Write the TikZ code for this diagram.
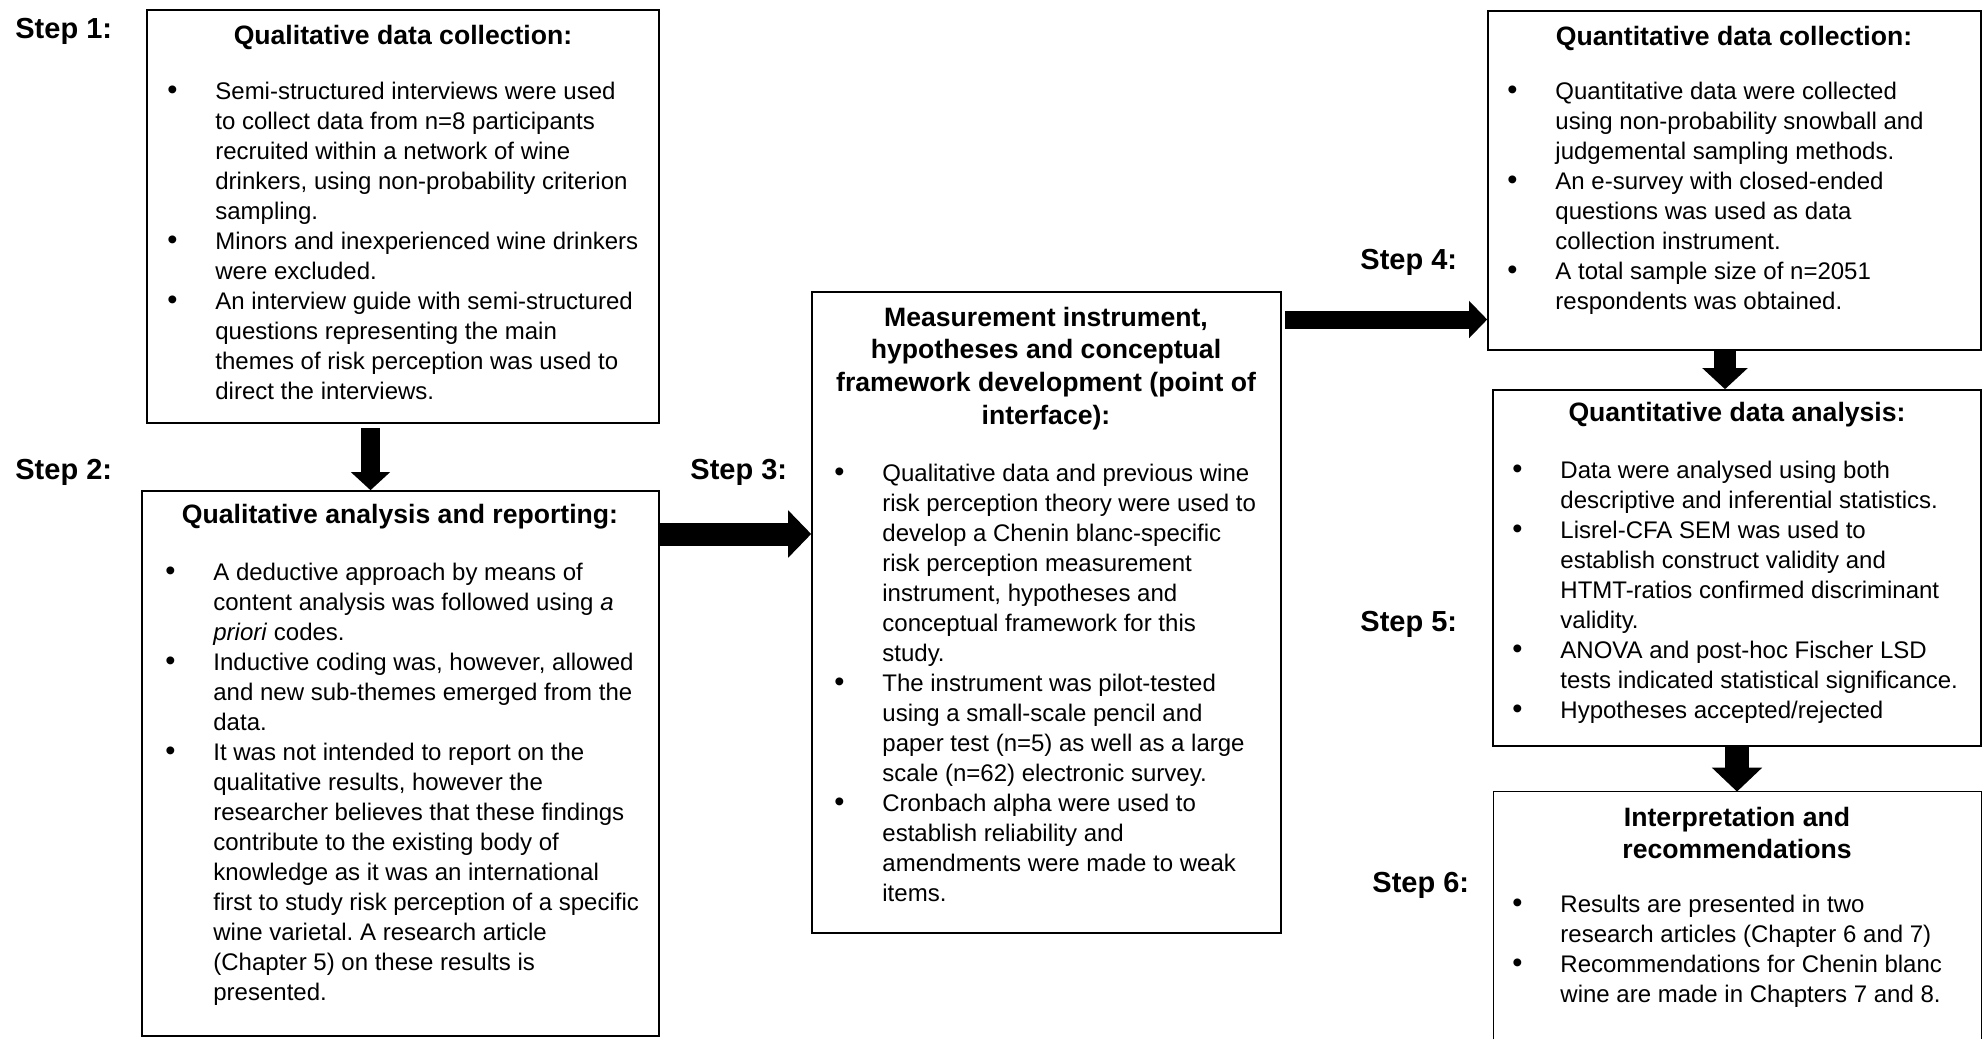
\documentclass[tikz,border=0pt]{standalone}
\usepackage{fontspec}
\setmainfont{Liberation Sans}
\usetikzlibrary{arrows.meta,fit}
\frenchspacing
% list bullet, a little heavier than the text bullet
\newcommand{\lbul}{{\fontsize{14.5}{15}\selectfont\textbullet}}
\begin{document}
\begin{tikzpicture}[x=0.5pt,y=-0.5pt,
  box/.style={draw=black, line width=0.8pt, inner sep=0pt},
  steplabel/.style={anchor=base west, inner sep=0pt, font=\fontsize{14.5}{17}\selectfont\bfseries},
  boxtitle/.style={anchor=base, inner sep=0pt, font=\fontsize{13.3}{16.4}\selectfont\bfseries},
  body/.style={anchor=base west, inner sep=0pt, font=\fontsize{12}{15}\selectfont},
  blockarrow/.style n args={3}{line width=#1, -{Triangle[width=#2,length=#3]}}
]
\useasboundingbox (0,0) rectangle (1984,1039);

% frames of the six stages
\node[box, fit={(147,10) (659,423)}] (box1) {};
\node[box, fit={(142,491) (659,1036)}] (box2) {};
\node[box, fit={(812,292) (1281,933)}] (box3) {};
\node[box, fit={(1488,11) (1981,350)}] (box4) {};
\node[box, fit={(1493,390) (1981,746)}] (box5) {};
\node[inner sep=0pt, fit={(1494,792) (1981,1039)}] (box6) {};
\draw[line width=0.8pt] (box6.south west) -- (box6.north west) -- (box6.north east) -- (box6.south east);

% step labels
\node[steplabel] (s1) at (15,38) {Step 1:};
\node[steplabel] (s2) at (15,479) {Step 2:};
\node[steplabel] (s3) at (690,479) {Step 3:};
\node[steplabel] (s4) at (1360,269) {Step 4:};
\node[steplabel] (s5) at (1360,631) {Step 5:};
\node[steplabel] (s6) at (1372,892) {Step 6:};

% stage 1
\node[boxtitle] (t1) at (403,44) {Qualitative data collection:};
\node[body] (b1) at (167,99) {\begin{tabular}[t]{@{}p{24pt}@{}l@{}}
\lbul & Semi-structured interviews were used\\
 & to collect data from n=8 participants\\
 & recruited within a network of wine\\
 & drinkers, using non-probability criterion\\
 & sampling.\\
\lbul & Minors and inexperienced wine drinkers\\
 & were excluded.\\
\lbul & An interview guide with semi-structured\\
 & questions representing the main\\
 & themes of risk perception was used to\\
 & direct the interviews.
\end{tabular}};

% stage 2
\node[boxtitle] (t2) at (400,523) {Qualitative analysis and reporting:};
\node[body] (b2) at (165,580) {\begin{tabular}[t]{@{}p{24pt}@{}l@{}}
\lbul & A deductive approach by means of\\
 & content analysis was followed using \textit{a}\\
 & \textit{priori} codes.\\
\lbul & Inductive coding was, however, allowed\\
 & and new sub-themes emerged from the\\
 & data.\\
\lbul & It was not intended to report on the\\
 & qualitative results, however the\\
 & researcher believes that these findings\\
 & contribute to the existing body of\\
 & knowledge as it was an international\\
 & first to study risk perception of a specific\\
 & wine varietal. A research article\\
 & (Chapter 5) on these results is\\
 & presented.
\end{tabular}};

% stage 3
\node[boxtitle] (t3) at (1046,326) {\begin{tabular}[t]{@{}c@{}}
Measurement instrument,\\
hypotheses and conceptual\\
framework development (point of\\
interface):
\end{tabular}};
\node[body] (b3) at (834,481) {\begin{tabular}[t]{@{}p{24pt}@{}l@{}}
\lbul & Qualitative data and previous wine\\
 & risk perception theory were used to\\
 & develop a Chenin blanc-specific\\
 & risk perception measurement\\
 & instrument, hypotheses and\\
 & conceptual framework for this\\
 & study.\\
\lbul & The instrument was pilot-tested\\
 & using a small-scale pencil and\\
 & paper test (n=5) as well as a large\\
 & scale (n=62) electronic survey.\\
\lbul & Cronbach alpha were used to\\
 & establish reliability and\\
 & amendments were made to weak\\
 & items.
\end{tabular}};

% stage 4
\node[boxtitle] (t4) at (1734,45) {Quantitative data collection:};
\node[body] (b4) at (1507,99) {\begin{tabular}[t]{@{}p{24pt}@{}l@{}}
\lbul & Quantitative data were collected\\
 & using non-probability snowball and\\
 & judgemental sampling methods.\\
\lbul & An e-survey with closed-ended\\
 & questions was used as data\\
 & collection instrument.\\
\lbul & A total sample size of n=2051\\
 & respondents was obtained.
\end{tabular}};

% stage 5
\node[boxtitle] (t5) at (1737,421) {Quantitative data analysis:};
\node[body] (b5) at (1512,478) {\begin{tabular}[t]{@{}p{24pt}@{}l@{}}
\lbul & Data were analysed using both\\
 & descriptive and inferential statistics.\\
\lbul & Lisrel-CFA SEM was used to\\
 & establish construct validity and\\
 & HTMT-ratios confirmed discriminant\\
 & validity.\\
\lbul & ANOVA and post-hoc Fischer LSD\\
 & tests indicated statistical significance.\\
\lbul & Hypotheses accepted/rejected
\end{tabular}};

% stage 6
\node[boxtitle] (t6) at (1737,826) {\begin{tabular}[t]{@{}c@{}}
Interpretation and\\
recommendations
\end{tabular}};
\node[body] (b6) at (1512,912) {\begin{tabular}[t]{@{}p{24pt}@{}l@{}}
\lbul & Results are presented in two\\
 & research articles (Chapter 6 and 7)\\
\lbul & Recommendations for Chenin blanc\\
 & wine are made in Chapters 7 and 8.
\end{tabular}};

% block arrows between the stages
\coordinate (a1) at (370.5,0);
\coordinate (a2) at (0,534);
\coordinate (a3) at (0,319.5);
\coordinate (a4) at (1725,0);
\coordinate (a5) at (1737,0);
\draw[blockarrow={9.5pt}{19pt}{9pt}, shorten <=2pt] (box1.south -| a1) -- (box2.north -| a1);
\draw[blockarrow={11.5pt}{23pt}{11.5pt}] (box2.east |- a2) -- (box3.west |- a2);
\draw[blockarrow={9pt}{18pt}{9pt}, shorten <=1.5pt] (box3.east |- a3) -- (box4.west |- a3);
\draw[blockarrow={11pt}{22pt}{10.5pt}] (box4.south -| a4) -- (box5.north -| a4);
\draw[blockarrow={12pt}{24.5pt}{12pt}] (box5.south -| a5) -- (box6.north -| a5);
\end{tikzpicture}
\end{document}
